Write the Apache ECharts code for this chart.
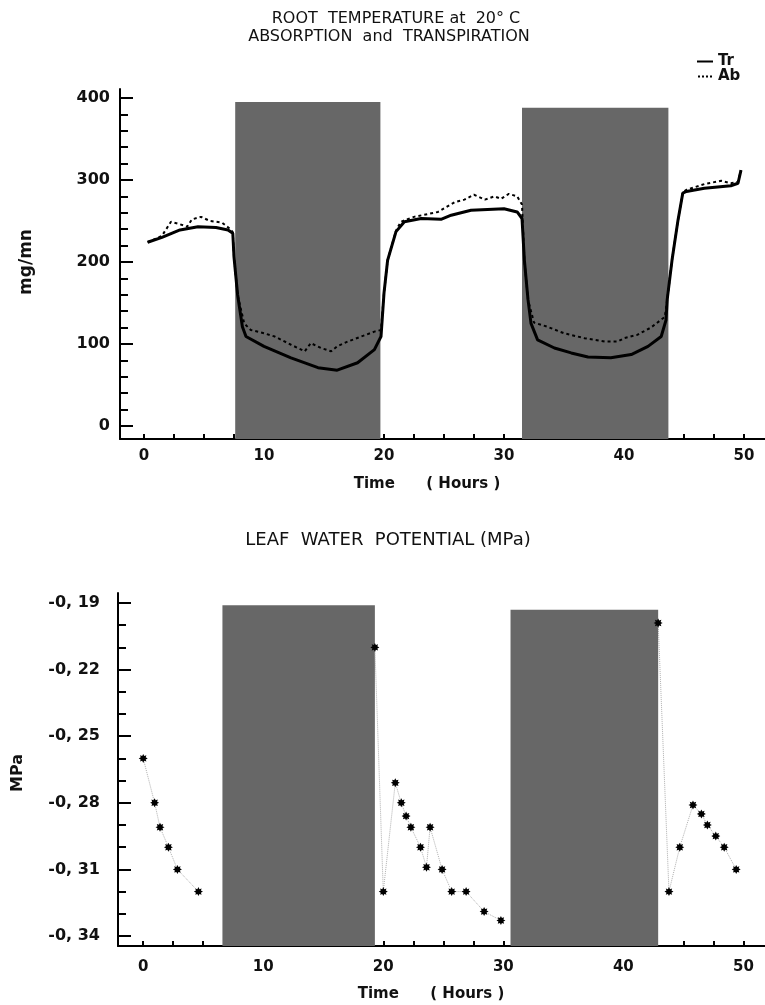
<!DOCTYPE html>
<html>
<head>
<meta charset="utf-8">
<script src="https://cdn.jsdelivr.net/npm/echarts@6/dist/echarts.min.js"></script>
<style>
  html, body { margin: 0; background: #fff; }
  #chart { width: 765px; height: 1005px; }
</style>
</head>
<body>
<div id="chart"></div>
<script>
// ---- top panel: absorption / transpiration, [hour, mg/mn]
const transpiration = [
  [0.3, 224], [1.5, 230], [3, 239], [4.5, 243], [6, 242], [7, 239], [7.4, 235], [7.5, 206], [7.8, 160],
  [8.2, 121], [8.5, 109], [10, 97], [12.25, 83], [14.5, 71], [16.1, 68], [17.8, 77], [19.2, 93], [19.75, 109],
  [20, 162], [20.3, 202], [21, 237], [21.7, 249], [23.1, 253], [24.75, 252], [25.6, 257], [27.25, 263],
  [30, 265], [31.1, 261], [31.5, 253], [31.7, 202], [32, 154], [32.25, 125], [32.8, 105], [34.2, 95],
  [35.6, 89], [37, 84], [38.9, 83], [40.6, 87], [42, 97], [43.1, 109], [43.5, 129], [43.6, 154], [44, 202],
  [44.5, 251], [44.9, 284], [45.2, 286], [46.7, 290], [48.9, 293], [49.5, 296], [49.75, 312]
]
const absorption = [
  [0.3, 224], [1.5, 232], [2.25, 249], [3, 246], [3.6, 243], [4, 252], [4.75, 255], [5.5, 250], [6.5, 248],
  [7.2, 240], [7.4, 236], [7.5, 206], [7.8, 160], [8.35, 125], [8.9, 117], [10, 113], [10.9, 109],
  [12.25, 99], [13.4, 91], [13.9, 101], [14.75, 95], [15.6, 91], [16.1, 97], [17, 103], [18.1, 109],
  [19.2, 115], [19.75, 117], [20, 162], [20.3, 202], [21, 238], [21.4, 249], [22.5, 255], [24.5, 261],
  [25.9, 273], [26.7, 276], [27.5, 282], [28.4, 276], [29.2, 280], [29.75, 277], [30.4, 283], [31.1, 280],
  [31.5, 270], [31.7, 202], [32, 154], [32.5, 126], [33.6, 121], [35, 113], [36.7, 107], [38.4, 103],
  [39.5, 103], [40, 107], [41.1, 111], [42.25, 120], [43.4, 133], [43.6, 154], [44, 202], [44.5, 251],
  [44.9, 285], [45.2, 288], [46.7, 295], [48.1, 299], [48.9, 296], [49.5, 298], [49.75, 312]
]
// dark periods (hours) and how high the shading reaches
const darkStartTop = [7.6, 31.5]
const darkEndTop = [19.7, 43.7]
const darkHeightTop = [395, 388]

// ---- bottom panel: leaf water potential, [hour, MPa]
const wpDay1 = [[0, -0.260], [0.95, -0.280], [1.4, -0.291], [2.1, -0.300], [2.85, -0.310], [4.6, -0.320]]
const wpDay2 = [[19.3, -0.210], [20, -0.320], [21, -0.271], [21.5, -0.280], [21.9, -0.286], [22.3, -0.291],
  [23.1, -0.300], [23.6, -0.309], [23.9, -0.291], [24.9, -0.310], [25.7, -0.320], [26.9, -0.320],
  [28.4, -0.329], [29.8, -0.333]]
const wpDay3 = [[42.9, -0.199], [43.8, -0.320], [44.7, -0.300], [45.8, -0.281], [46.5, -0.285], [47, -0.290],
  [47.7, -0.295], [48.4, -0.300], [49.4, -0.310]]
const darkStartBottom = [6.6, 30.6]
const darkEndBottom = [19.3, 42.9]
const darkHeightBottom = [-0.191, -0.193]

// ---- ticks / labels
const hourLabels = [0, 10, 20, 30, 40, 50]
const hourTicks = [0, 2.5, 5, 7.5, 10, 12.5, 15, 17.5, 20, 22.5, 25, 27.5, 30, 32.5, 35, 37.5, 40, 42.5, 45, 47.5, 50]
const flowLabels = [0, 100, 200, 300, 400]
const flowTicks = [0, 20, 40, 60, 80, 100, 120, 140, 160, 180, 200, 220, 240, 260, 280, 300, 320, 340, 360, 380, 400]
const wpLabels = [-0.19, -0.22, -0.25, -0.28, -0.31, -0.34]
const wpTicks = [-0.19, -0.20, -0.21, -0.22, -0.23, -0.24, -0.25, -0.26, -0.27, -0.28, -0.29, -0.30, -0.31, -0.32, -0.33, -0.34]

const FONT = 'DejaVu Sans'
const SHADE = '#676767'
const star = 'path://M0,-10L2.3,-5.5L7.1,-7.1L5.5,-2.3L10,0L5.5,2.3L7.1,7.1L2.3,5.5L0,10L-2.3,5.5L-7.1,7.1L-5.5,2.3L-10,0L-5.5,-2.3L-7.1,-7.1L-2.3,-5.5Z'

const blackLine = { show: true, onZero: false, lineStyle: { color: '#000', width: 2 } }
const labelStyle = { color: '#111', fontFamily: FONT, fontWeight: 'bold', fontSize: 15 }

function hourAxis(gridIndex, min, max, margin) {
  return {
    type: 'value', gridIndex, min, max,
    axisLine: blackLine,
    splitLine: { show: false },
    axisTick: { inside: true, length: 5, customValues: hourTicks, lineStyle: { color: '#000', width: 2 } },
    axisLabel: Object.assign({ customValues: hourLabels, margin }, labelStyle)
  }
}
// second y axis on the same side, only for the short minor ticks
function ticksOnly(gridIndex, min, max, values, len) {
  return {
    type: 'value', gridIndex, min, max, position: 'left', offset: 0,
    axisLine: { show: false, onZero: false }, splitLine: { show: false }, axisLabel: { show: false },
    axisTick: { inside: true, length: len, customValues: values, lineStyle: { color: '#000', width: 2 } }
  }
}
function areas(starts, ends, tops, bottom) {
  return starts.map((s, i) => [{ coord: [s, bottom] }, { coord: [ends[i], tops[i]] }])
}
function title(text, x, y, font) {
  return { type: 'text', x, y, style: { text, fill: '#111', font, textAlign: 'center', textVerticalAlign: 'middle' } }
}

const chart = echarts.init(document.getElementById('chart'))
chart.setOption({
  animation: false,
  backgroundColor: '#fff',
  grid: [
    { left: 120, top: 89, right: 0, height: 350 },
    { left: 118, top: 593, right: 0, height: 353 }
  ],
  xAxis: [hourAxis(0, -2, 51.75, 10), hourAxis(1, -2.1, 51.8, 14)],
  yAxis: [
    {
      type: 'value', gridIndex: 0, min: -16, max: 411, position: 'left',
      axisLine: blackLine, splitLine: { show: false },
      axisTick: { inside: true, length: 13, customValues: flowLabels, lineStyle: { color: '#000', width: 2 } },
      axisLabel: Object.assign({ customValues: flowLabels, margin: 10 }, labelStyle, { fontSize: 16 })
    },
    ticksOnly(0, -16, 411, flowTicks, 8),
    {
      type: 'value', gridIndex: 1, min: -0.3445, max: -0.1855, position: 'left',
      axisLine: blackLine, splitLine: { show: false },
      axisTick: { inside: true, length: 13, customValues: wpLabels, lineStyle: { color: '#000', width: 2 } },
      axisLabel: Object.assign({
        customValues: wpLabels, margin: 18,
        formatter: v => '-0, ' + Math.round(-v * 100)
      }, labelStyle, { fontSize: 16 })
    },
    ticksOnly(1, -0.3445, -0.1855, wpTicks, 8)
  ],
  legend: {
    orient: 'vertical', left: 692, top: 49, itemGap: 0, itemWidth: 16, itemHeight: 2,
    data: [
      { name: 'Tr', icon: 'path://M0,0H16V2H0Z' },
      { name: 'Ab', icon: 'path://M0,0H2V2H0ZM4,0H6V2H4ZM8,0H10V2H8ZM12,0H14V2H12Z' }
    ],
    textStyle: { color: '#111', fontFamily: FONT, fontWeight: 'bold', fontSize: 15, lineHeight: 13 }
  },
  graphic: [
    title('ROOT  TEMPERATURE at  20° C', 396, 19, '16px "DejaVu Sans"'),
    title('ABSORPTION  and  TRANSPIRATION', 389, 37, '16px "DejaVu Sans"'),
    title('LEAF  WATER  POTENTIAL (MPa)', 388, 540, '18px "DejaVu Sans"'),
    title('Time      ( Hours )', 427, 484, 'bold 15px "DejaVu Sans"'),
    title('Time      ( Hours )', 431, 994, 'bold 15px "DejaVu Sans"'),
    Object.assign(title('mg/mn', 27, 262, 'bold 17px "DejaVu Sans"'), { rotation: Math.PI / 2 }),
    Object.assign(title('MPa', 18, 773, 'bold 16px "DejaVu Sans"'), { rotation: Math.PI / 2 })
  ],
  series: [
    {
      type: 'line', xAxisIndex: 0, yAxisIndex: 0, data: [], z: 1, silent: true,
      markArea: { silent: true, itemStyle: { color: SHADE, opacity: 1 }, data: areas(darkStartTop, darkEndTop, darkHeightTop, -16) }
    },
    {
      name: 'Tr', type: 'line', xAxisIndex: 0, yAxisIndex: 0, z: 3,
      symbol: 'none', data: transpiration, color: '#000',
      lineStyle: { color: '#000', width: 3 }
    },
    {
      name: 'Ab', type: 'line', xAxisIndex: 0, yAxisIndex: 0, z: 3,
      symbol: 'none', data: absorption, color: '#000',
      lineStyle: { color: '#000', width: 2, type: [3, 3] }
    },
    {
      type: 'line', xAxisIndex: 1, yAxisIndex: 2, data: [], z: 1, silent: true,
      markArea: { silent: true, itemStyle: { color: SHADE, opacity: 1 }, data: areas(darkStartBottom, darkEndBottom, darkHeightBottom, -0.3445) }
    },
    ...[wpDay1, wpDay2, wpDay3].map(d => ({
      type: 'line', xAxisIndex: 1, yAxisIndex: 2, z: 3, data: d,
      symbol: star, symbolSize: 9,
      itemStyle: { color: '#000' },
      lineStyle: { color: '#b0b0b0', width: 1, type: 'dotted' }
    }))
  ]
})
</script>
</body>
</html>
